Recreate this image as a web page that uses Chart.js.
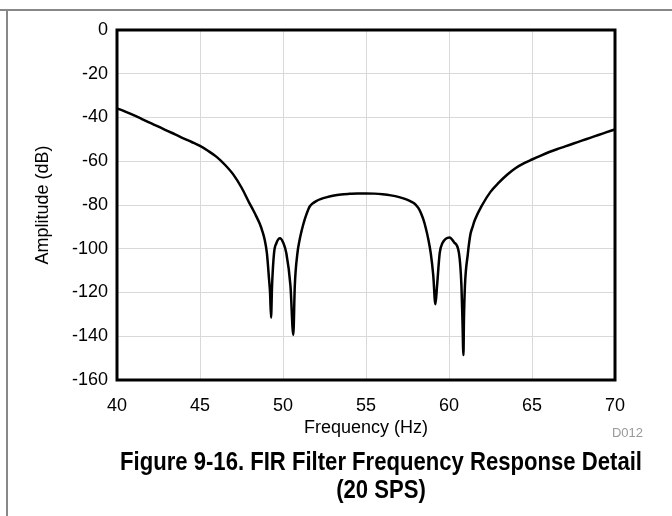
<!DOCTYPE html>
<html>
<head>
<meta charset="utf-8">
<script src="https://cdn.jsdelivr.net/npm/chart.js@4.4.1/dist/chart.umd.min.js"></script>
<style>
  html, body { margin: 0; padding: 0; background: #fff; }
  #wrap { position: relative; width: 672px; height: 516px; overflow: hidden; }
  #chart { position: absolute; left: 0; top: 0; }
  .frameTop { position: absolute; left: 0; top: 9px; width: 672px; height: 2px; background: #888; }
  .frameLeft { position: absolute; left: 6px; top: 9px; width: 2px; height: 507px; background: #888; }
  #code { position: absolute; right: 29px; top: 425px; font: 13px "Liberation Sans", Arial, sans-serif; color: #999; }
  #caption { position: absolute; left: 0; width: 762px; top: 447px; text-align: center; white-space: nowrap;
    font: bold 26px/28px "Liberation Sans", Arial, sans-serif; color: #000;
    transform: scaleX(0.85); transform-origin: 381px 0; }
</style>
</head>
<body>
<div id="wrap">
  <canvas id="chart" width="672" height="516"></canvas>
  <div class="frameTop"></div>
  <div class="frameLeft"></div>
  <div id="code">D012</div>
  <div id="caption">Figure 9-16. FIR Filter Frequency Response Detail<br>(20 SPS)</div>
</div>
<script>
// values
const frequencyHz = [
    40.0, 40.5, 41.0, 41.5, 42.0, 42.5, 43.0, 43.5, 44.0, 44.5,
    45.0, 45.5, 46.0, 46.5, 47.0, 47.5, 48.0, 48.2, 48.4, 48.6,
    48.75, 48.9, 49.03, 49.16, 49.22, 49.28, 49.34, 49.46, 49.6, 49.82,
    50.0, 50.2, 50.45, 50.62, 50.71, 50.87, 51.0, 51.1, 51.2, 51.3,
    51.4, 51.5, 51.6, 51.75, 52.0, 52.3, 52.6, 53.0, 53.5, 54.0,
    54.5, 55.0, 55.5, 56.0, 56.5, 57.0, 57.3, 57.6, 57.85, 58.0,
    58.15, 58.3, 58.45, 58.6, 58.75, 58.9, 59.05, 59.18, 59.28, 59.44,
    59.6, 60.04, 60.3, 60.6, 60.75, 60.81, 60.87, 60.9, 60.96, 61.14,
    61.2, 61.3, 61.4, 61.55, 62.0, 62.5, 63.0, 63.5, 64.0, 64.5,
    65.0, 65.5, 66.0, 66.5, 67.0, 67.5, 68.0, 68.5, 69.0, 69.5,
    70.0
];
const amplitudeDb = [
    -35.8, -37.3, -38.9, -40.7, -42.5, -44.2, -46.0, -47.7, -49.5, -51.2,
    -53.0, -55.3, -58.0, -61.6, -66.0, -72.0, -79.5, -82.3, -85.3, -88.6,
    -91.8, -96, -102, -114, -120, -131.5, -117, -102, -97.5, -95.2,
    -97, -102, -117, -139.4, -117, -102, -96, -92.5, -89.5, -86.8,
    -84.5, -82.5, -80.8, -79.5, -78.2, -77.2, -76.5, -75.8, -75.2, -74.9,
    -74.7, -74.7, -74.8, -75.1, -75.6, -76.4, -77.1, -78.0, -79.0, -79.9,
    -81.3, -83.5, -86.5, -90.5, -95.5, -102, -112, -125.4, -117, -102,
    -97.5, -94.8, -97, -102, -117, -132.6, -148.6, -132.6, -117, -102,
    -98, -93, -90.5, -87, -80, -74, -69.8, -66.2, -63.2, -61.0,
    -59.2, -57.5, -55.9, -54.5, -53.2, -51.9, -50.6, -49.3, -48.0, -46.7,
    -45.4
];
const xTicks = [40, 45, 50, 55, 60, 65, 70];
const yTicks = [0, -20, -40, -60, -80, -100, -120, -140, -160];

const points = frequencyHz.map((f, i) => ({x: f, y: amplitudeDb[i]}));

// black box round the plot area
const plotBox = {
    id: 'plotBox',
    afterDatasetsDraw(chart) {
        const a = chart.chartArea;
        const ctx = chart.ctx;
        ctx.save();
        ctx.strokeStyle = '#000';
        ctx.lineWidth = 3;
        ctx.strokeRect(a.left, a.top, a.right - a.left, a.bottom - a.top);
        ctx.restore();
    }
};

const axisFont = {family: '"Liberation Sans", Arial, sans-serif', size: 18};

new Chart(document.getElementById('chart').getContext('2d'), {
    type: 'line',
    data: {
        datasets: [{
            label: 'Amplitude',
            data: points,
            borderColor: '#000',
            borderWidth: 2.5,
            pointRadius: 0,
            fill: false,
            cubicInterpolationMode: 'monotone'
        }]
    },
    options: {
        responsive: false,
        animation: false,
        layout: {padding: {left: 28, top: 30, right: 57, bottom: 73}},
        plugins: {legend: {display: false}, tooltip: {enabled: false}},
        scales: {
            x: {
                type: 'linear',
                min: 40,
                max: 70,
                afterBuildTicks: s => { s.ticks = xTicks.map(v => ({value: v})); },
                afterFit: s => { s.height = 63; },
                ticks: {color: '#000', font: axisFont, padding: 15, maxRotation: 0},
                grid: {color: '#d9d9d9', lineWidth: 1, drawTicks: false},
                border: {display: false},
                title: {display: true, text: 'Frequency (Hz)', color: '#000', font: axisFont}
            },
            y: {
                type: 'linear',
                min: -160,
                max: 0,
                afterBuildTicks: s => { s.ticks = yTicks.map(v => ({value: v})); },
                afterFit: s => { s.width = 89; },
                ticks: {color: '#000', font: axisFont, padding: 9},
                grid: {color: '#d9d9d9', lineWidth: 1, drawTicks: false},
                border: {display: false},
                title: {display: true, text: 'Amplitude (dB)', color: '#000', font: axisFont}
            }
        }
    },
    plugins: [plotBox]
});
</script>
</body>
</html>
